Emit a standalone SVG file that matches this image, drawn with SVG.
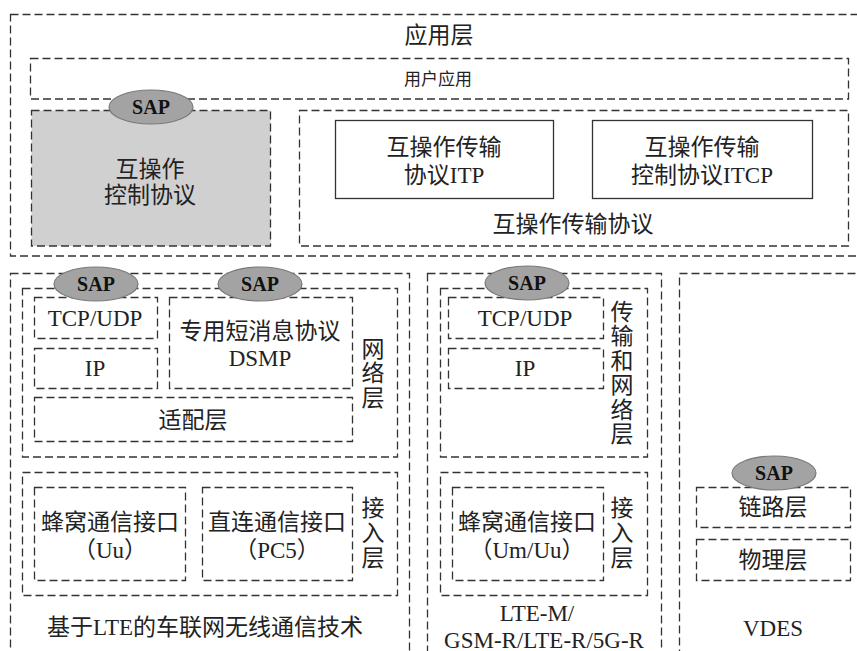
<svg xmlns="http://www.w3.org/2000/svg" width="857" height="651" viewBox="0 0 857 651">
<style>
.d{fill:none;stroke:#333;stroke-width:1.3;stroke-dasharray:8 4}
.s{fill:#fff;stroke:#333;stroke-width:1.3}
.g{fill:#d1d0d1;stroke:#333;stroke-width:1.3;stroke-dasharray:8 4}
.sap{fill:#a3a3a3;stroke:#7a7a7a;stroke-width:1.2}
text{font-family:"Liberation Serif","Noto Sans CJK SC",serif;font-size:23px;fill:#222;text-anchor:middle;dominant-baseline:central}
.sm{font-size:17px}
.st{font-weight:bold;font-size:20px;fill:#111}
</style>
<rect width="857" height="651" fill="#fff"/>

<g id="app-layer">
<rect class="d" x="10.5" y="14.5" width="860" height="241.5"/>
<text x="439" y="35">应用层</text>
</g>
<g id="user-app">
<rect class="d" x="30.5" y="58.5" width="818" height="40.5"/>
<text class="sm" x="438" y="79">用户应用</text>
</g>
<g id="interop-control">
<rect class="g" x="31.5" y="110.5" width="239" height="135.5"/>
<text x="150" y="169">互操作</text>
<text x="150" y="195">控制协议</text>
</g>
<g id="interop-transport">
<rect class="d" x="299.5" y="110.5" width="549" height="135.5"/>
<text x="573" y="224">互操作传输协议</text>
</g>
<g id="itp">
<rect class="s" x="335.5" y="120.5" width="218" height="78"/>
<text x="444" y="147">互操作传输</text>
<text x="444" y="175">协议ITP</text>
</g>
<g id="itcp">
<rect class="s" x="592.5" y="120.5" width="220" height="78"/>
<text x="702" y="147">互操作传输</text>
<text x="702" y="175">控制协议ITCP</text>
</g>

<g id="lte-v2x">
<rect class="d" x="10.5" y="273.5" width="399" height="400"/>
<text x="205" y="627">基于LTE的车联网无线通信技术</text>
</g>
<g id="v2x-network">
<rect class="d" x="22.5" y="288.5" width="375" height="168.5"/>
<text x="373" y="349">网</text>
<text x="373" y="373.5">络</text>
<text x="373" y="398">层</text>
</g>
<g id="v2x-tcpudp">
<rect class="d" x="34.5" y="297.5" width="123" height="41"/>
<text x="95" y="318">TCP/UDP</text>
</g>
<g id="v2x-ip">
<rect class="d" x="34.5" y="348.5" width="123" height="40"/>
<text x="95" y="368">IP</text>
</g>
<g id="dsmp">
<rect class="d" x="169.5" y="297.5" width="183" height="91"/>
<text x="260" y="331">专用短消息协议</text>
<text x="260" y="358">DSMP</text>
</g>
<g id="adapt">
<rect class="d" x="34.5" y="397.5" width="318" height="44"/>
<text x="193" y="420">适配层</text>
</g>
<g id="v2x-access">
<rect class="d" x="22.5" y="472.5" width="375" height="123"/>
<text x="373" y="508">接</text>
<text x="373" y="533">入</text>
<text x="373" y="558">层</text>
</g>
<g id="uu">
<rect class="d" x="34.5" y="487.5" width="151" height="93"/>
<text x="110" y="522">蜂窝通信接口</text>
<text x="110" y="550">（Uu）</text>
</g>
<g id="pc5">
<rect class="d" x="202.5" y="487.5" width="150" height="93"/>
<text x="277" y="522">直连通信接口</text>
<text x="277" y="550">（PC5）</text>
</g>

<g id="lte-m">
<rect class="d" x="427.5" y="273.5" width="234" height="400"/>
<text x="537" y="613">LTE-M/</text>
<text x="544" y="640">GSM-R/LTE-R/5G-R</text>
</g>
<g id="m-network">
<rect class="d" x="440.5" y="288.5" width="207" height="168.5"/>
<text x="622" y="312">传</text>
<text x="622" y="336.5">输</text>
<text x="622" y="361">和</text>
<text x="622" y="385.5">网</text>
<text x="622" y="410">络</text>
<text x="622" y="434.5">层</text>
</g>
<g id="m-tcpudp">
<rect class="d" x="448.5" y="297.5" width="155" height="41"/>
<text x="525" y="318">TCP/UDP</text>
</g>
<g id="m-ip">
<rect class="d" x="448.5" y="348.5" width="155" height="40"/>
<text x="525" y="368">IP</text>
</g>
<g id="m-access">
<rect class="d" x="440.5" y="472.5" width="207" height="123"/>
<text x="622" y="508">接</text>
<text x="622" y="533">入</text>
<text x="622" y="558">层</text>
</g>
<g id="m-cell">
<rect class="d" x="452.5" y="487.5" width="151" height="93"/>
<text x="527" y="522">蜂窝通信接口</text>
<text x="527" y="550">（Um/Uu）</text>
</g>

<g id="vdes">
<rect class="d" x="679.5" y="273.5" width="200" height="400"/>
<text x="773" y="628">VDES</text>
</g>
<g id="link-layer">
<rect class="d" x="696.5" y="487.5" width="154" height="40"/>
<text x="773" y="507">链路层</text>
</g>
<g id="phy-layer">
<rect class="d" x="696.5" y="539.5" width="154" height="41"/>
<text x="773" y="560">物理层</text>
</g>

<g id="saps">
<ellipse class="sap" cx="151" cy="107" rx="42" ry="17"/>
<text class="st" x="151" y="107">SAP</text>
<ellipse class="sap" cx="96" cy="284" rx="42" ry="17"/>
<text class="st" x="96" y="284">SAP</text>
<ellipse class="sap" cx="260" cy="284" rx="42" ry="17"/>
<text class="st" x="260" y="284">SAP</text>
<ellipse class="sap" cx="527" cy="283" rx="42" ry="17"/>
<text class="st" x="527" y="283">SAP</text>
<ellipse class="sap" cx="774" cy="473" rx="42" ry="17"/>
<text class="st" x="774" y="473">SAP</text>
</g>
</svg>
